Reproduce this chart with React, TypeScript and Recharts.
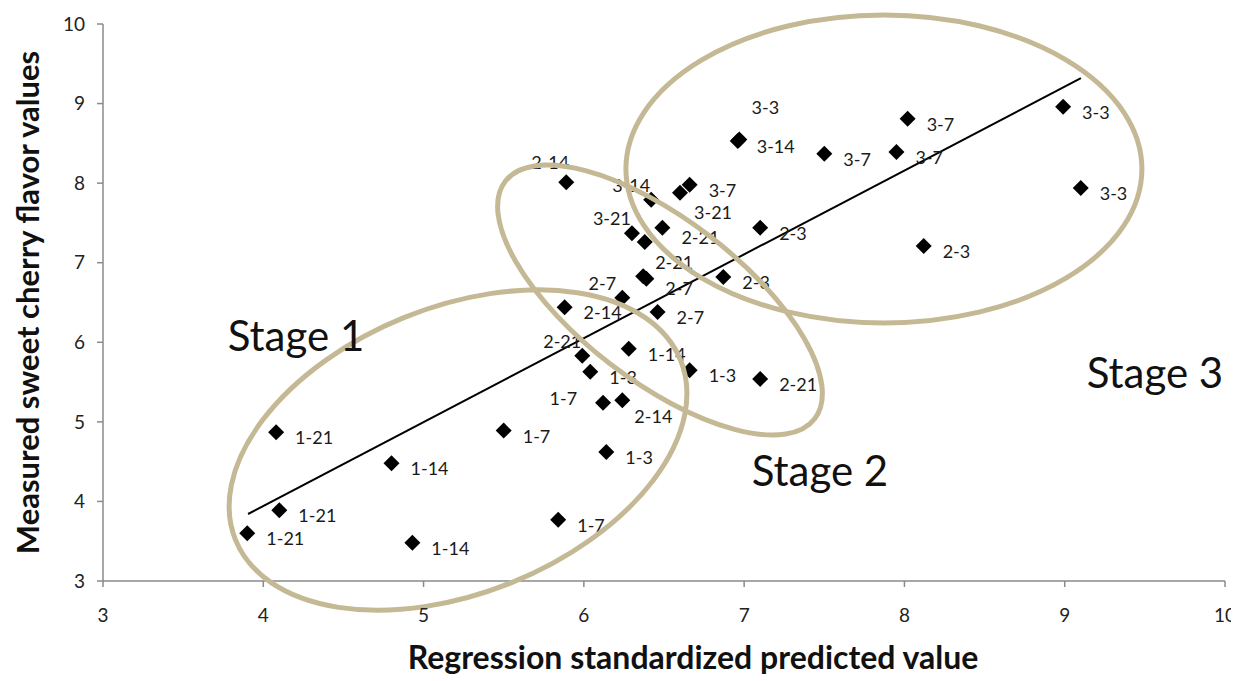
import { ScatterChart, Scatter, XAxis, YAxis, ReferenceLine, ReferenceDot } from 'recharts'

// regression standardized predicted value
const xValues = [
  3.90, 4.10, 4.08, 4.80, 4.93, 5.50, 5.84, 6.14, 6.12, 6.24,
  6.04, 5.99, 6.28, 6.66, 7.10, 5.88, 6.24, 6.46, 6.37, 6.39,
  6.87, 6.30, 6.38, 6.49, 6.42, 6.60, 6.66, 5.89, 7.10, 6.96,
  6.97, 7.50, 7.95, 8.02, 8.99, 9.10, 8.12,
]
// measured sweet cherry flavor values
const yValues = [
  3.60, 3.89, 4.87, 4.48, 3.48, 4.89, 3.77, 4.62, 5.24, 5.27,
  5.63, 5.83, 5.92, 5.65, 5.54, 6.44, 6.56, 6.38, 6.83, 6.80,
  6.82, 7.37, 7.26, 7.44, 7.79, 7.88, 7.98, 8.01, 7.44, 8.53,
  8.55, 8.37, 8.39, 8.81, 8.96, 7.94, 7.21,
]
const pointLabels = [
  '1-21', '1-21', '1-21', '1-14', '1-14', '1-7', '1-7', '1-3', '1-7', '2-14',
  '1-3', '2-21', '1-14', '1-3', '2-21', '2-14', '2-7', '2-7', '2-21', '2-7',
  '2-3', '3-21', '', '2-21', '3-14', '3-21', '3-7', '2-14', '2-3', '3-14',
  '3-3', '3-7', '3-7', '3-7', '3-3', '3-3', '2-3',
]
// where each label sits relative to its marker
const labelSides = [
  'r', 'r', 'r', 'r', 'r', 'r', 'r', 'r', 'l', 'br',
  'r', 'tl', 'r', 'r', 'r', 'r', 'tl', 'r', 'tr', 'rl',
  'r', 'tl', 'r', 'rl', 'tl', 'bb', 'r', 't', 'r', 'r',
  'tt', 'r', 'r', 'r', 'r', 'r', 'r',
]

const xTicks = [3, 4, 5, 6, 7, 8, 9, 10]
const yTicks = [3, 4, 5, 6, 7, 8, 9, 10]

// fitted regression line end points
const fitLine = [
  { x: 3.905, y: 3.842 },
  { x: 9.101, y: 9.32 },
]

// stage groupings: centre in data units
const stageNames = ['Stage 1', 'Stage 2', 'Stage 3']
const stageCentersX = [5.215, 6.475, 7.872]
const stageCentersY = [4.646, 6.531, 8.178]
const stageTextX = [4.204, 7.473, 9.563]
const stageTextY = [6.09, 4.395, 5.627]

// ellipse sizes in px (rx, ry, rotation deg)
const ELLIPSE_SHAPES = [
  { rx: 240, ry: 143, rot: -22 },
  { rx: 195, ry: 81, rot: 37.5 },
  { rx: 258, ry: 154, rot: 0 },
]

const points = xValues.map((x, i) => ({ x, y: yValues[i], label: pointLabels[i], side: labelSides[i] }))

const FONT = 'Lato, "Open Sans", sans-serif'
const ELLIPSE_COLOR = '#c4b994'
const AXIS_COLOR = '#8a8a8a'

const LABEL_OFFSETS: Record<string, { dx: number; dy: number; anchor: string }> = {
  r:  { dx: 19, dy: 5, anchor: 'start' },
  rl: { dx: 19, dy: 9, anchor: 'start' },
  l:  { dx: -26, dy: -5, anchor: 'end' },
  t:  { dx: -16, dy: -20, anchor: 'middle' },
  tl: { dx: -20, dy: -15, anchor: 'middle' },
  tr: { dx: 31, dy: -14, anchor: 'middle' },
  tt: { dx: 26, dy: -32, anchor: 'middle' },
  br: { dx: 12, dy: 16, anchor: 'start' },
  bb: { dx: 14, dy: 19, anchor: 'start' },
}

// eslint-disable-next-line @typescript-eslint/no-explicit-any
function DiamondWithLabel(props: any) {
  const { cx, cy, payload } = props
  const s = 8
  const off = LABEL_OFFSETS[payload.side] ?? LABEL_OFFSETS.r
  return (
    <g>
      <path d={`M${cx},${cy - s}L${cx + s},${cy}L${cx},${cy + s}L${cx - s},${cy}Z`} fill="#000" />
      {payload.label && (
        <text
          x={cx + off.dx}
          y={cy + off.dy}
          textAnchor={off.anchor}
          dominantBaseline="central"
          fontSize={18}
          fontFamily={FONT}
          fill="#1a1a1a"
        >
          {payload.label}
        </text>
      )}
    </g>
  )
}

export default function App() {
  return (
    <div style={{ width: 1231, height: 673 }}>
      <ScatterChart width={1231} height={673} margin={{ top: 16, right: 14, bottom: 10, left: 0 }}>
        <XAxis
          type="number"
          dataKey="x"
          domain={[3, 10]}
          ticks={xTicks}
          allowDataOverflow
          height={90}
          stroke={AXIS_COLOR}
          strokeWidth={1.5}
          tickSize={6}
          tickMargin={22}
          tick={{ fill: '#222', fontSize: 19, fontFamily: FONT }}
          label={{
            value: 'Regression standardized predicted value',
            position: 'insideBottom',
            offset: 2,
            dx: 29,
            style: { fontSize: 32, fontWeight: 700, fontFamily: FONT, fill: '#111' },
          }}
        />
        <YAxis
          type="number"
          dataKey="y"
          domain={[3, 10]}
          ticks={yTicks}
          allowDataOverflow
          width={95}
          stroke={AXIS_COLOR}
          strokeWidth={1.5}
          tickSize={6}
          tickMargin={12}
          tick={{ fill: '#222', fontSize: 19, fontFamily: FONT }}
          label={{
            value: 'Measured sweet cherry flavor values',
            angle: -90,
            position: 'insideLeft',
            offset: 20,
            style: { textAnchor: 'middle', fontSize: 31, fontWeight: 700, fontFamily: FONT, fill: '#111' },
          }}
        />
        <ReferenceLine segment={fitLine} stroke="#000" strokeWidth={2} />
        <Scatter data={points} shape={DiamondWithLabel} isAnimationActive={false} />
        {stageNames.map((name, i) => (
          <ReferenceDot
            key={`e-${name}`}
            x={stageCentersX[i]}
            y={stageCentersY[i]}
            r={1}
            // eslint-disable-next-line @typescript-eslint/no-explicit-any
            shape={(p: any) => (
              <ellipse
                cx={p.cx}
                cy={p.cy}
                rx={ELLIPSE_SHAPES[i].rx}
                ry={ELLIPSE_SHAPES[i].ry}
                transform={`rotate(${ELLIPSE_SHAPES[i].rot} ${p.cx} ${p.cy})`}
                fill="none"
                stroke={ELLIPSE_COLOR}
                strokeWidth={5}
              />
            )}
          />
        ))}
        {stageNames.map((name, i) => (
          <ReferenceDot
            key={`t-${name}`}
            x={stageTextX[i]}
            y={stageTextY[i]}
            r={1}
            // eslint-disable-next-line @typescript-eslint/no-explicit-any
            shape={(p: any) => (
              <text
                x={p.cx}
                y={p.cy}
                textAnchor="middle"
                dominantBaseline="central"
                fontSize={42}
                fontFamily={FONT}
                fill="#111"
              >
                {name}
              </text>
            )}
          />
        ))}
      </ScatterChart>
    </div>
  )
}
